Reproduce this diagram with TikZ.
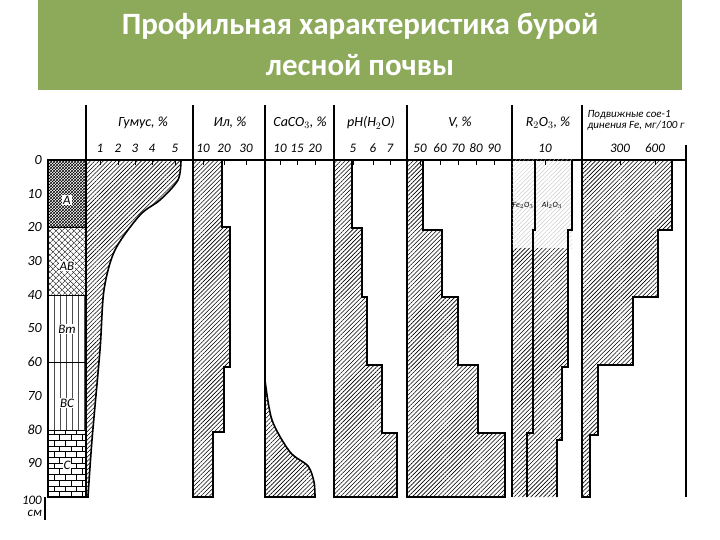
\documentclass[tikz,border=0pt]{standalone}
\usepackage{fontspec}
\setmainfont{Carlito}
\usetikzlibrary{patterns,patterns.meta}
\begin{document}
\begin{tikzpicture}[x=1pt,y=-1pt,
  hat/.style={pattern={Lines[distance=3pt,angle=45,line width=0.6pt]},pattern color=black},
  edge/.style={line width=1.6pt},
  col/.style={line width=1.1pt},
  hdr/.style={font=\itshape\fontsize{14}{14}\selectfont,inner sep=0pt},
  tk/.style={font=\itshape\fontsize{13}{13}\selectfont,inner sep=0pt},
  dl/.style={font=\itshape\fontsize{14}{14}\selectfont,inner sep=0pt,anchor=east}]
\useasboundingbox (0,0) rectangle (720,540);
\fill[white] (0,0) rectangle (720,540);
% title
\fill[fill={rgb,255:red,140;green,170;blue,90}] (38,0) rectangle (682,90);
\node[text=white,font=\bfseries\fontsize{31}{41}\selectfont,align=center] (title) at (360,44) {Профильная характеристика бурой\\лесной почвы};
% horizon column
\fill[pattern=crosshatch,pattern color=black] (48,160) rectangle (86,227);
\fill[pattern={Lines[distance=4pt,angle=45,line width=0.5pt]}] (48,227) rectangle (86,295);
\fill[pattern={Lines[distance=4pt,angle=-45,line width=0.5pt]}] (48,227) rectangle (86,295);
\fill[pattern={Lines[distance=6pt,angle=90,line width=0.4pt]},pattern color=black!70] (48,295) rectangle (86,430);
\fill[pattern=bricks,pattern color=black] (48,430) rectangle (86,497);
\draw[col] (48,160) rectangle (86,497);
\foreach \yy in {227,295,362,430} \draw[line width=0.8pt] (48,\yy) -- (86,\yy);
\foreach \t/\yy in {A/200,AB/266,Bm/329,BC/403,C/465}
  \node[fill=white,inner sep=1pt,font=\itshape\fontsize{13}{13}\selectfont] (h\t) at (67,\yy) {\t};
\draw[col] (45,497) -- (45,520);
% depth labels
\foreach \d in {0,10,...,90} \node[dl] (d\d) at (42,{160+3.37*\d}) {\d};
\node[dl,align=right,font=\itshape\fontsize{13}{12}\selectfont] (d100) at (42,506) {100\\см};
% frame lines
\draw[col] (48,160) -- (686,160);
\foreach \xx in {86,193,265,334,407,512,582} \draw[col] (\xx,105) -- (\xx,497);
\draw[col] (686,145) -- (686,497);
% humus
\filldraw[hat,edge] (86,160) -- (181,160) -- plot[smooth] coordinates {(181,160) (178,180) (160,200) (140,215) (115,250) (104,290) (100,350) (92,440) (88,497)} -- (86,497) -- cycle;
% Il
\filldraw[hat,edge] (193,160) -- (222,160) -- (222,227) -- (230,227) -- (230,367) -- (224,367) -- (224,432) -- (213,432) -- (213,497) -- (193,497) -- cycle;
% CaCO3
\filldraw[hat,edge] (265,380) -- plot[smooth] coordinates {(265,380) (272,420) (290,452) (308,466) (314,482) (315,497)} -- (265,497) -- cycle;
% pH
\filldraw[hat,edge] (334,160) -- (352,160) -- (352,228) -- (362,228) -- (362,297) -- (367,297) -- (367,365) -- (382,365) -- (382,433) -- (397,433) -- (397,497) -- (334,497) -- cycle;
% V
\filldraw[hat,edge] (407,160) -- (423,160) -- (423,230) -- (442,230) -- (442,297) -- (458,297) -- (458,365) -- (478,365) -- (478,433) -- (505,433) -- (505,497) -- (407,497) -- cycle;
% R2O3
\fill[pattern={Lines[distance=3pt,angle=45,line width=0.3pt]},pattern color=black!25] (512,160) rectangle (572,248);
\fill[hat] (512,248) -- (533,248) -- (533,433) -- (527,433) -- (527,497) -- (512,497) -- cycle;
\fill[hat] (533,248) -- (568,248) -- (568,367) -- (562,367) -- (562,440) -- (557,440) -- (557,497) -- (527,497) -- (527,433) -- (533,433) -- cycle;
\draw[edge] (535,160) -- (535,230) -- (533,230) -- (533,433) -- (527,433) -- (527,497);
\draw[edge] (572,160) -- (572,230) -- (568,230) -- (568,367) -- (562,367) -- (562,440) -- (557,440) -- (557,497);
\node[font=\itshape\fontsize{8}{8}\selectfont,inner sep=0pt] (fe2o3) at (523,205) {Fe$_2$O$_3$};
\node[font=\itshape\fontsize{8}{8}\selectfont,inner sep=0pt] (al2o3) at (552,205) {Al$_2$O$_3$};
% Fe mobile
\filldraw[hat,edge] (582,160) -- (672,160) -- (672,230) -- (658,230) -- (658,297) -- (633,297) -- (633,365) -- (598,365) -- (598,435) -- (590,435) -- (590,497) -- (582,497) -- cycle;
% headers
\node[hdr] (hg) at (143,123) {Гумус, \%};
\node[hdr] (hil) at (230,123) {Ил, \%};
\node[hdr] (hca) at (300,123) {CaCO$_3$, \%};
\node[hdr] (hph) at (371,123) {pH(H$_2$O)};
\node[hdr] (hv) at (460,123) {V, \%};
\node[hdr] (hr) at (548,123) {R$_2$O$_3$, \%};
\node[hdr,align=left,font=\itshape\fontsize{11}{11}\selectfont] (hfe) at (636,120) {Подвижные сое-1\\динения Fe, мг/100 г};
% ticks
\foreach \xx/\t in {100/1,118/2,135/3,152/4,175/5,203/10,224/20,246/30,280/10,297/15,315/20,353/5,373/6,390/7,420/50,440/60,458/70,476/80,494/90,545/10,620/300,655/600}
  {\node[tk] at (\xx,148) {\t}; \draw[line width=0.8pt] (\xx,160) -- (\xx,165);}
\end{tikzpicture}
\end{document}
